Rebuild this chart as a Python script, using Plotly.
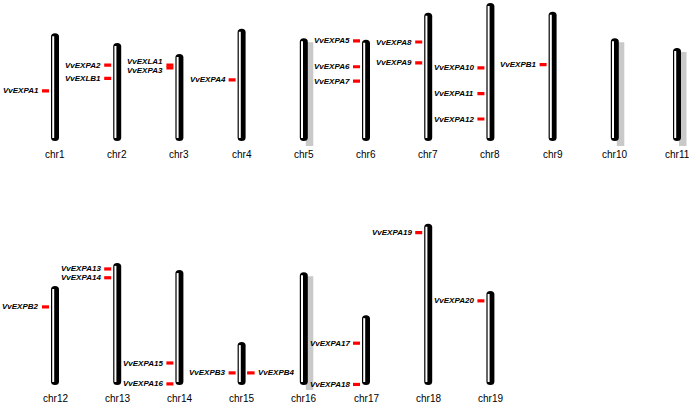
import plotly.graph_objects as go

# ---- data (lengths and positions in Mb, measured from chromosome top) ----
top_row = ['chr1', 'chr2', 'chr3', 'chr4', 'chr5', 'chr6', 'chr7', 'chr8', 'chr9', 'chr10', 'chr11']
bottom_row = ['chr12', 'chr13', 'chr14', 'chr15', 'chr16', 'chr17', 'chr18', 'chr19']
chrom_lengths = {
    'chr1': 19.6, 'chr2': 17.8, 'chr3': 15.8, 'chr4': 20.4, 'chr5': 18.7, 'chr6': 18.4,
    'chr7': 23.3, 'chr8': 25.1, 'chr9': 23.5, 'chr10': 18.7, 'chr11': 16.9,
    'chr12': 18.0, 'chr13': 22.2, 'chr14': 20.9, 'chr15': 7.8, 'chr16': 20.5,
    'chr17': 12.7, 'chr18': 29.3, 'chr19': 17.1,
}
shadow_chroms = ['chr5', 'chr10', 'chr11', 'chr16']

gene_names = ['VvEXPA1', 'VvEXPA2', 'VvEXLB1', 'VvEXLA1', 'VvEXPA3', 'VvEXPA4',
              'VvEXPA5', 'VvEXPA6', 'VvEXPA7', 'VvEXPA8', 'VvEXPA9',
              'VvEXPA10', 'VvEXPA11', 'VvEXPA12', 'VvEXPB1',
              'VvEXPB2', 'VvEXPA13', 'VvEXPA14', 'VvEXPA15', 'VvEXPA16',
              'VvEXPB3', 'VvEXPB4', 'VvEXPA17', 'VvEXPA18', 'VvEXPA19', 'VvEXPA20']
gene_chroms = ['chr1', 'chr2', 'chr2', 'chr3', 'chr3', 'chr4',
               'chr6', 'chr6', 'chr6', 'chr7', 'chr7',
               'chr8', 'chr8', 'chr8', 'chr9',
               'chr12', 'chr13', 'chr13', 'chr14', 'chr14',
               'chr15', 'chr15', 'chr17', 'chr17', 'chr18', 'chr19']
gene_pos = [10.5, 4.0, 6.4, 2.0, 2.5, 9.3,
            0.2, 4.9, 7.5, 5.3, 9.1,
            11.8, 16.5, 21.1, 9.6,
            3.8, 1.1, 2.7, 16.9, 20.7,
            5.6, 5.6, 5.1, 12.6, 1.6, 1.8]
gene_side = ['L'] * 21 + ['R'] + ['L'] * 4
label_nudge = {'VvEXLA1': 3.5, 'VvEXPA3': -3}

# ---- scales (pixels per unit) ----
PXX = 62.2
PXY = 5.5
W, H = 689, 405

def dx(px):
    return px / PXX

def dy(px):
    return px / PXY

fig = go.Figure()
shapes = []
annotations = []

def place(chrom):
    if chrom in top_row:
        return top_row.index(chrom) + 1, 'y'
    return bottom_row.index(chrom) + 1, 'y2'

for chrom, L in chrom_lengths.items():
    xc, yref = place(chrom)
    # shadow
    if chrom in shadow_chroms:
        shapes.append(dict(type='rect', xref='x', yref=yref,
                           x0=xc + dx(2), x1=xc + dx(9.5),
                           y0=-dy(5), y1=L - dy(4),
                           fillcolor='#c9c9c9', line=dict(width=0), layer='below'))
    x0, x1 = xc - dx(4), xc + dx(4)
    ry = dy(3.5)
    path = (f'M {x0},{ry} Q {x0},0 {xc},0 Q {x1},0 {x1},{ry} '
            f'L {x1},{L - ry} Q {x1},{L} {xc},{L} Q {x0},{L} {x0},{L - ry} Z')
    shapes.append(dict(type='path', xref='x', yref=yref, path=path,
                       fillcolor='black', line=dict(width=0)))
    shapes.append(dict(type='rect', xref='x', yref=yref,
                       x0=xc - dx(2.8), x1=xc - dx(0.8),
                       y0=dy(3), y1=L - dy(3),
                       fillcolor='white', line=dict(width=0)))
    annotations.append(dict(x=xc, y=0, xref='x', yref=yref, text=chrom,
                            showarrow=False, yshift=-13, yanchor='middle',
                            font=dict(family='Liberation Sans, Arial', size=10, color='black')))

for name, chrom, pos, side in zip(gene_names, gene_chroms, gene_pos, gene_side):
    xc, yref = place(chrom)
    L = chrom_lengths[chrom]
    yg = L - pos
    if side == 'L':
        mx0, mx1 = xc - dx(13), xc - dx(6)
        xshift, xanchor = -14, 'right'
    else:
        mx0, mx1 = xc + dx(5.5), xc + dx(13)
        xshift, xanchor = 14, 'left'
    shapes.append(dict(type='rect', xref='x', yref=yref,
                       x0=mx0, x1=mx1, y0=yg - dy(1.6), y1=yg + dy(1.6),
                       fillcolor='#ff0000', line=dict(width=0)))
    annotations.append(dict(x=xc, y=yg, xref='x', yref=yref, text=f'<b><i>{name}</i></b>',
                            showarrow=False, xshift=xshift, xanchor=xanchor,
                            yshift=label_nudge.get(name, 0), yanchor='middle',
                            font=dict(family='Liberation Sans, Arial', size=8, color='black')))

# invisible traces to anchor axes
fig.add_trace(go.Scatter(x=[1], y=[0], mode='markers', marker=dict(opacity=0),
                         hoverinfo='skip', showlegend=False))
fig.add_trace(go.Scatter(x=[1], y=[0], yaxis='y2', mode='markers', marker=dict(opacity=0),
                         hoverinfo='skip', showlegend=False))

top_base_px = 141
bot_base_px = 385
half = H / 2
fig.update_layout(
    width=W, height=H,
    margin=dict(l=0, r=0, t=0, b=0),
    paper_bgcolor='white', plot_bgcolor='white',
    showlegend=False,
    xaxis=dict(range=[1 - dx(55), 1 + dx(W - 55)], visible=False, fixedrange=True),
    yaxis=dict(domain=[0.5, 1], range=[-dy(half - top_base_px), dy(top_base_px)],
               visible=False, fixedrange=True),
    yaxis2=dict(domain=[0, 0.5], range=[-dy(H - bot_base_px), dy(bot_base_px - half)],
                visible=False, fixedrange=True, anchor='x'),
    shapes=shapes,
    annotations=annotations,
)

fig.write_html('out.html', config={'displayModeBar': False},
               post_script="document.body.style.margin='0';document.body.style.overflow='hidden';")
